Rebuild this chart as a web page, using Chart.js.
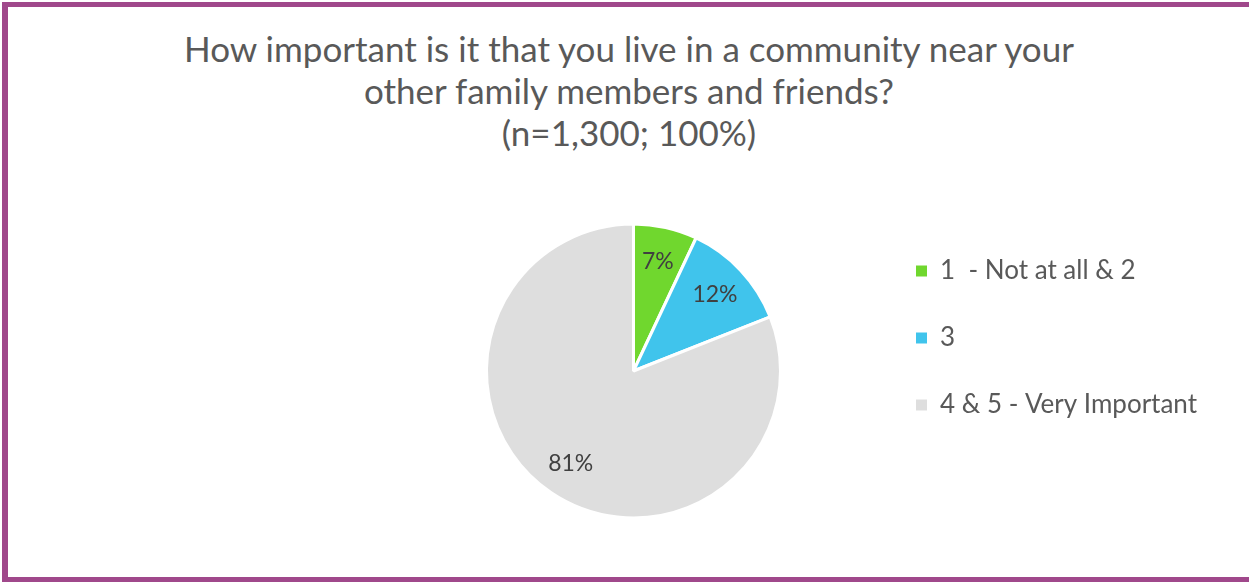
<!DOCTYPE html>
<html>
<head>
<meta charset="utf-8">
<script src="https://cdn.jsdelivr.net/npm/chart.js@4.4.0/dist/chart.umd.min.js"></script>
<style>
  html, body { margin: 0; padding: 0; background: #fff; overflow: hidden; }
  body { width: 1249px; height: 582px; position: relative; font-family: Lato, sans-serif; }
  #frame { position: absolute; left: 2px; top: 2px; width: 1300px; height: 580px; box-sizing: border-box;
           border: 5px solid #A0488B; border-left-width: 6px; }
  #title { position: absolute; left: 0; width: 1258px; top: 27px; text-align: center;
           color: #595959; font-size: 35px; line-height: 42px; }
  #wrap { position: absolute; left: 392px; top: 217px; width: 815px; height: 308px; }
</style>
</head>
<body>
<div id="frame"></div>
<div id="title">How important is it that you live in a community near your<br>other family members and friends?<br>(n=1,300; 100%)</div>
<div id="wrap"><canvas id="pieChart" width="815" height="308"></canvas></div>
<script>
const labels = ['1  - Not at all & 2', '3', '4 & 5 - Very Important'];
const shares = [7, 12, 81];
const colors = ['#70D72E', '#40C4EC', '#DEDEDE'];

// percent labels sit about three quarters of the way out along each slice
const sliceLabels = {
    id: 'sliceLabels',
    afterDatasetsDraw(chart) {
        const ctx = chart.ctx;
        const meta = chart.getDatasetMeta(0);
        ctx.save();
        ctx.font = '23px Lato';
        ctx.fillStyle = '#404040';
        ctx.textAlign = 'center';
        ctx.textBaseline = 'middle';
        meta.data.forEach((arc, i) => {
            const p = arc.getProps(['x', 'y', 'startAngle', 'endAngle', 'outerRadius'], true);
            const mid = (p.startAngle + p.endAngle) / 2;
            const r = p.outerRadius * 0.76;
            ctx.fillText(shares[i] + '%', p.x + Math.cos(mid) * r, p.y + Math.sin(mid) * r);
        });
        ctx.restore();
    }
};

let ctx = document.getElementById('pieChart').getContext('2d');
let chart = new Chart(ctx, {
    type: 'pie',
    data: {
        labels: labels,
        datasets: [{
            data: shares,
            backgroundColor: colors,
            borderColor: '#ffffff',
            borderWidth: 3
        }]
    },
    options: {
        responsive: false,
        animation: false,
        devicePixelRatio: 1,
        radius: 147,
        layout: { padding: 0 },
        plugins: {
            tooltip: { enabled: false },
            legend: {
                position: 'right',
                align: 'start',
                labels: {
                    boxWidth: 11,
                    boxHeight: 11,
                    padding: 41,
                    color: '#595959',
                    font: { family: 'Lato', size: 26 },
                    // no white outline on the legend squares
                    generateLabels: (c) => Chart.overrides.pie.plugins.legend.labels.generateLabels(c)
                        .map(item => ({ ...item, lineWidth: 0 }))
                }
            }
        }
    },
    plugins: [sliceLabels]
});
</script>
</body>
</html>
